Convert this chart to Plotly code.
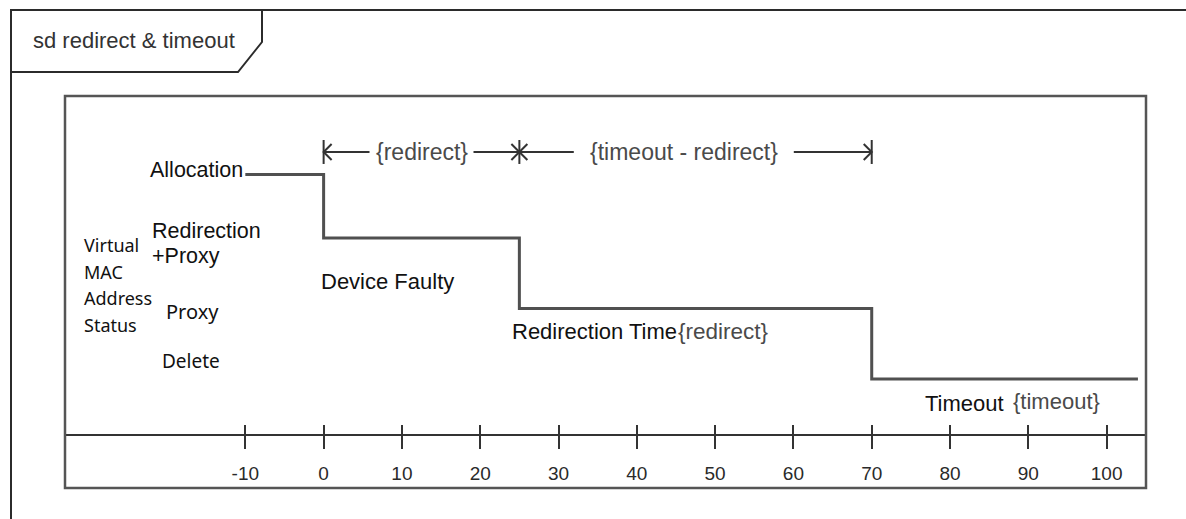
import plotly.graph_objects as go

# ---------------- data ----------------
event_times = [-10, 0, 25, 70, 104]          # time points of the state changes (x)
state_names = ["Allocation", "Redirection+Proxy", "Proxy", "Delete"]
state_levels = [3.9, 3.0, 2.0, 1.0]           # vertical level of each state
step_states = [0, 1, 2, 3, 3]                 # state index at each event time
tick_values = [-10, 0, 10, 20, 30, 40, 50, 60, 70, 80, 90, 100]
tick_labels = ["-10", "0", "10", "20", "30", "40", "50", "60", "70", "80", "90", "100"]
dim_marks = [0, 25, 70]                       # dimension arrow marks
dim_texts = ["{redirect}", "{timeout - redirect}"]
frame_title = "sd redirect & timeout"

# ---------------- layout geometry ----------------
W, H = 1186, 519
L, R, T, B = 65, 40, 96, 31
PW, PH = W - L - R, H - T - B
X_RANGE = [-33.03, 105.03]
Y_RANGE = [-0.546, 5.014]

def px(x):
    return (x - L) / PW

def py(y):
    return (H - B - y) / PH

ARIAL = "Liberation Sans, Arial, sans-serif"
CAL = "Noto Sans, Open Sans, sans-serif"
DARK = "#2b2b2b"
GRAYTXT = "#4a4a4a"

fig = go.Figure()

# step line (state timeline)
fig.add_trace(go.Scatter(
    x=event_times,
    y=[state_levels[s] for s in step_states],
    mode="lines", line=dict(shape="hv", color="#505050", width=3),
    hoverinfo="skip", showlegend=False))

# dimension line
y_dim = 4.22
bar_h = 0.17
ux = PW / (X_RANGE[1] - X_RANGE[0])    # px per x unit
uy = PH / (Y_RANGE[1] - Y_RANGE[0])    # px per y unit
gap_half_px = [52, 110]
center_shift = [0.0, -1.5]
dim_x, dim_y = [], []
text_centers = []
for i in range(len(dim_marks) - 1):
    a, b = dim_marks[i], dim_marks[i + 1]
    c = (a + b) / 2 + center_shift[i]
    g = gap_half_px[i] / ux
    text_centers.append(c)
    dim_x += [a, c - g, None, c + g, b, None]
    dim_y += [y_dim, y_dim, None, y_dim, y_dim, None]
# bars and chevrons
ah_x, ah_y = 8 / ux, 8 / uy
for i, m in enumerate(dim_marks):
    dim_x += [m, m, None]
    dim_y += [y_dim - bar_h, y_dim + bar_h, None]
    dirs = []
    if i < len(dim_marks) - 1:
        dirs.append(1)   # arrow pointing left at m, arms open to right
    if i > 0:
        dirs.append(-1)  # arrow pointing right at m, arms open to left
    for d in dirs:
        dim_x += [m + d * ah_x, m, m + d * ah_x, None]
        dim_y += [y_dim + ah_y, y_dim, y_dim - ah_y, None]
fig.add_trace(go.Scatter(
    x=dim_x, y=dim_y, mode="lines",
    line=dict(color="#333333", width=2),
    hoverinfo="skip", showlegend=False))

for c, t in zip(text_centers, dim_texts):
    fig.add_annotation(x=c, y=y_dim, xref="x", yref="y", text=t, showarrow=False,
                       font=dict(family=ARIAL, size=23, color=GRAYTXT),
                       xanchor="center", yanchor="middle")

# ---------------- shapes: frame, tab, inner box ----------------
shapes = []
shapes.append(dict(type="rect", xref="paper", yref="paper", x0=0, x1=1, y0=0, y1=1,
                   line=dict(color="#555555", width=2.5), layer="above"))
shapes.append(dict(type="line", xref="paper", yref="paper",
                   x0=px(10), x1=px(1190), y0=py(10), y1=py(10),
                   line=dict(color=DARK, width=2)))
shapes.append(dict(type="line", xref="paper", yref="paper",
                   x0=px(11), x1=px(11), y0=py(10), y1=py(525),
                   line=dict(color=DARK, width=2)))
tab_path = "M {},{} L {},{} L {},{} L {},{}".format(
    px(262), py(10), px(262), py(42), px(238), py(72), px(10), py(72))
shapes.append(dict(type="path", xref="paper", yref="paper", path=tab_path,
                   line=dict(color=DARK, width=2)))

# ---------------- text labels ----------------
def label(x, y, text, size, family=ARIAL, color="#111111"):
    fig.add_annotation(x=px(x), y=py(y), xref="paper", yref="paper", text=text,
                       showarrow=False, xanchor="left", yanchor="middle",
                       font=dict(family=family, size=size, color=color))

label(31, 41, frame_title, 22, color="#333333")
label(148, 170, state_names[0], 21.5)
label(150, 231, "Redirection", 21.5)
label(150, 256, "+Proxy", 21.5)
label(164, 311, state_names[2], 20, family=CAL)
label(160, 361, state_names[3], 19, family=CAL)
for i, w in enumerate(["Virtual", "MAC", "Address", "Status"]):
    label(82, 245 + i * 26.7, w, 18, family=CAL)
label(319, 281, "Device Faulty", 22)
label(510, 331, "Redirection Time", 22)
label(676, 331, "{redirect}", 22.5, color=GRAYTXT)
label(923, 403, "Timeout", 22)
label(1011, 401, "{timeout}", 22, color=GRAYTXT)

axis_pos = py(435)
fig.update_layout(
    width=W, height=H,
    margin=dict(l=L, r=R, t=T, b=B),
    paper_bgcolor="white", plot_bgcolor="white",
    shapes=shapes,
    xaxis=dict(range=X_RANGE, anchor="free", position=axis_pos,
               showgrid=False, zeroline=False, showline=True,
               linecolor="#333333", linewidth=2,
               ticks="outside", ticklen=13, tickwidth=2, tickcolor="#333333",
               tickvals=tick_values, ticktext=tick_labels,
               tickfont=dict(family=ARIAL, size=19, color="#2a2a2a"),
               ticklabelstandoff=8),
    xaxis2=dict(range=X_RANGE, anchor="free", position=axis_pos, overlaying="x",
                showgrid=False, zeroline=False, showline=False,
                ticks="inside", ticklen=10, tickwidth=2, tickcolor="#333333",
                tickvals=tick_values, showticklabels=False),
    yaxis=dict(range=Y_RANGE, visible=False, showgrid=False, zeroline=False),
    showlegend=False,
)
fig.add_trace(go.Scatter(x=[tick_values[0]], y=[state_levels[-1]], xaxis="x2",
                         mode="markers", marker=dict(opacity=0), hoverinfo="skip",
                         showlegend=False))

fig.write_html("out.html", config={"displayModeBar": False},
               post_script="document.body.style.margin='0';document.body.style.overflow='hidden';")
